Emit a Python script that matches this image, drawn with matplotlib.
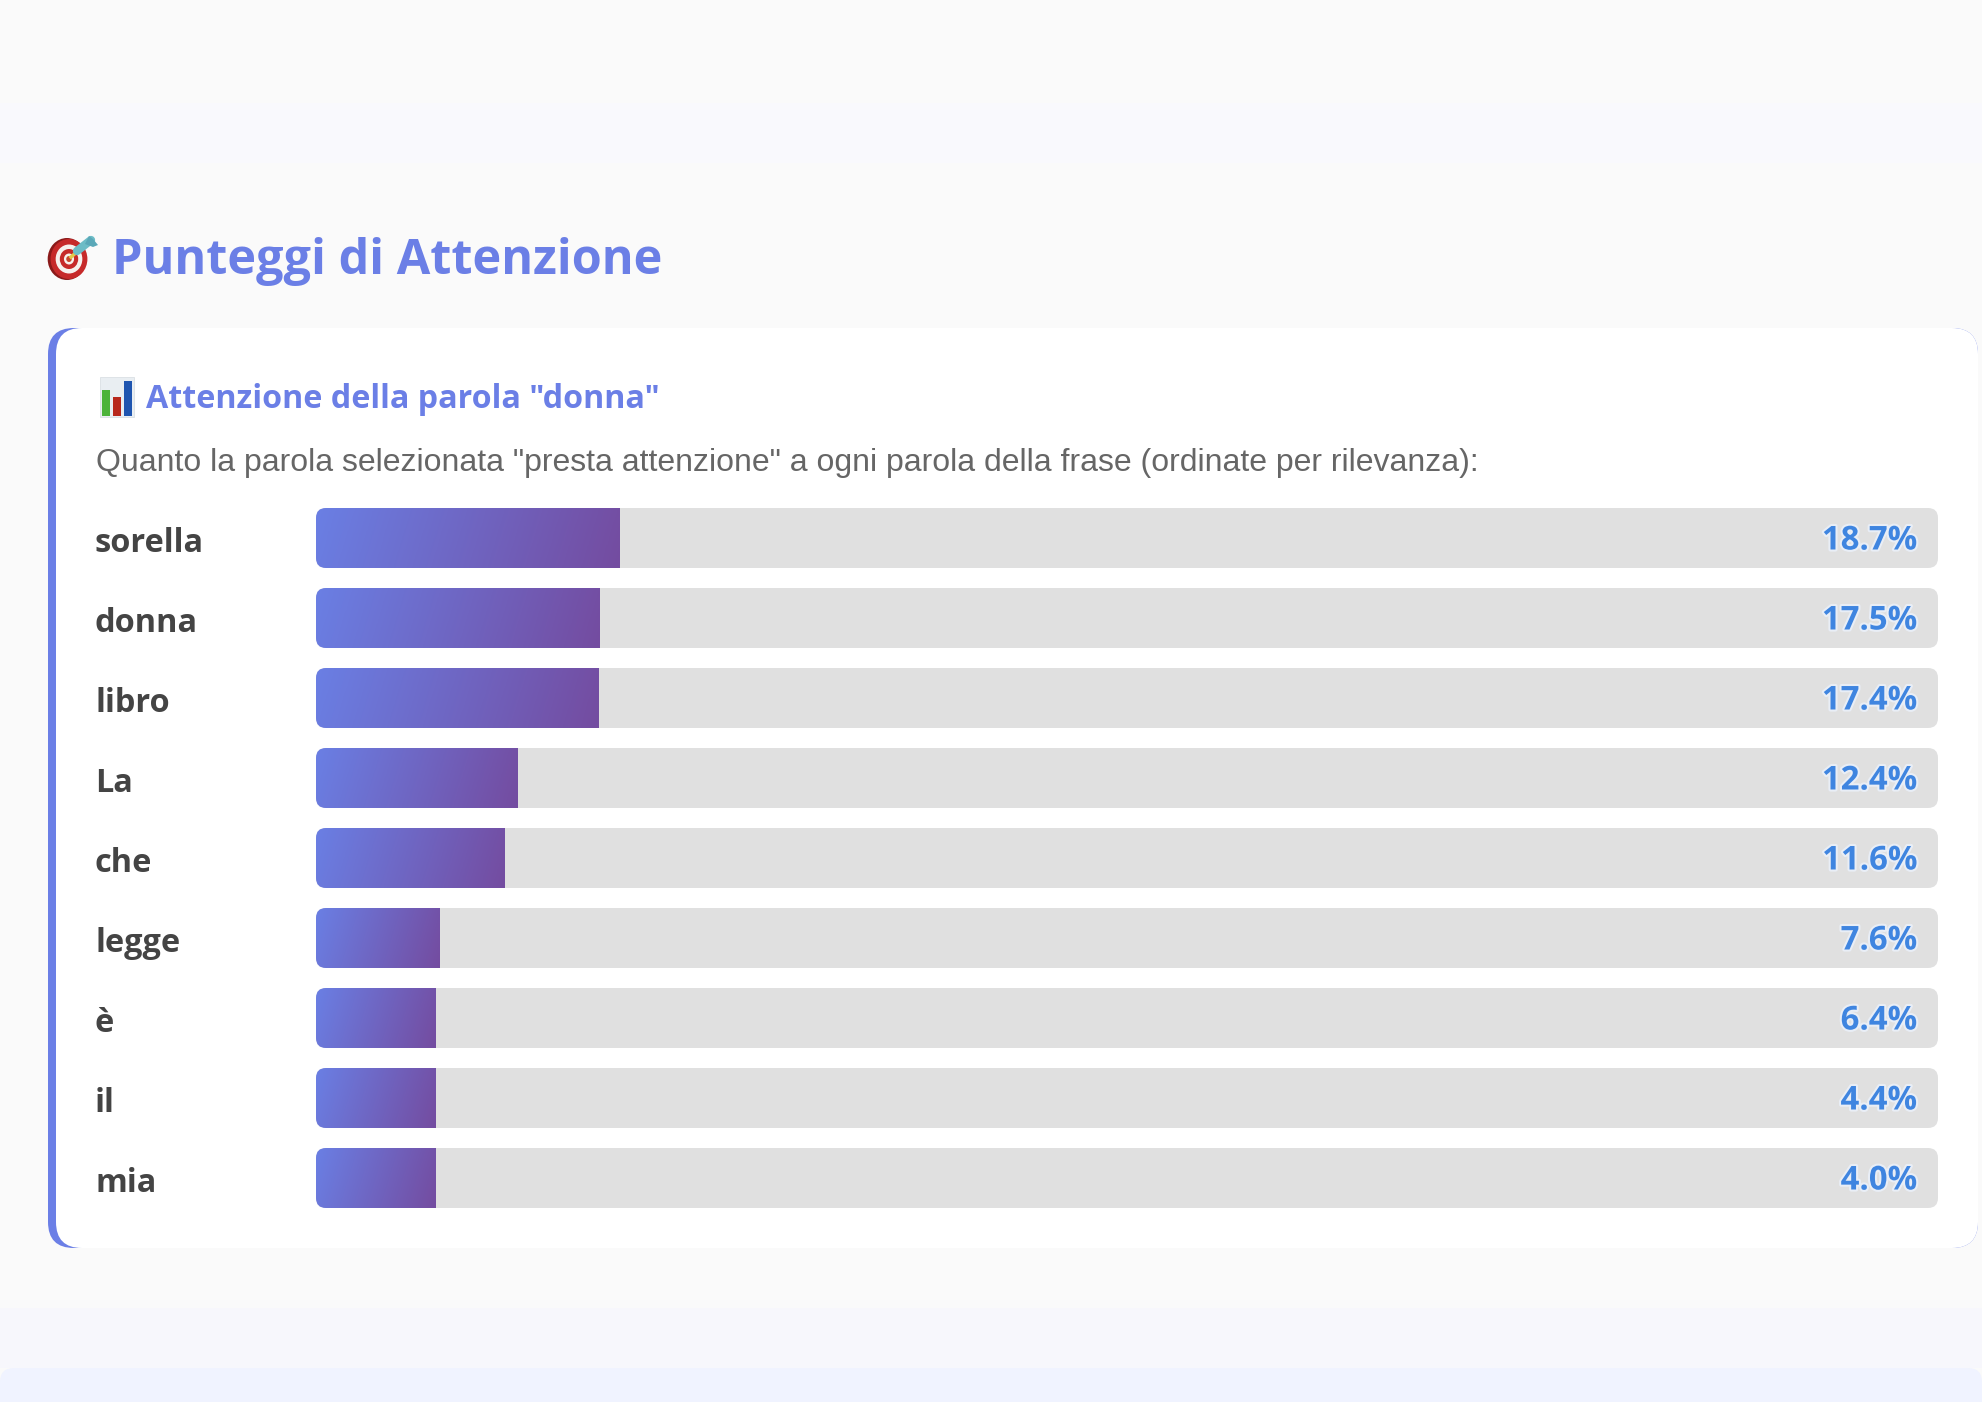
import numpy as np
import matplotlib
matplotlib.use("Agg")
import matplotlib.pyplot as plt
import matplotlib.patheffects as pe
from matplotlib.patches import FancyBboxPatch, Rectangle, Ellipse, Polygon
from matplotlib.colors import LinearSegmentedColormap

words = ["sorella", "donna", "libro", "La", "che", "legge", "è", "il", "mia"]
scores = [18.7, 17.5, 17.4, 12.4, 11.6, 7.6, 6.4, 4.4, 4.0]
title = "Punteggi di Attenzione"
subtitle = 'Attenzione della parola "donna"'
intro = 'Quanto la parola selezionata "presta attenzione" a ogni parola della frase (ordinate per rilevanza):'

W, H = 1982, 1402
FONT = ["Liberation Sans", "DejaVu Sans"]
BOLD = ["Open Sans", "Liberation Sans", "DejaVu Sans"]
fig = plt.figure(figsize=(W/100, H/100), dpi=100, facecolor="#fafafa")
ax = fig.add_axes([0, 0, 1, 1])
ax.set_xlim(0, W); ax.set_ylim(H, 0); ax.axis("off")

def rrect(x0, y0, x1, y1, r, color, z=1):
    p = FancyBboxPatch((x0+r, y0+r), x1-x0-2*r, y1-y0-2*r, boxstyle=f"round,pad={r},rounding_size={r}",
                       fc=color, ec="none", zorder=z)
    ax.add_patch(p)
    return p

# page bands
ax.add_patch(Rectangle((0, 103), W, 60, fc="#f9f9fd", ec="none", zorder=0))
ax.add_patch(Rectangle((0, 1308), W, 60, fc="#f7f7fc", ec="none", zorder=0))
rrect(0, 1368, W, 1460, 14, "#f0f3ff", 0.5)

# card
rrect(48, 328, 1978, 1248, 26, "#6b7fe6", 1)
rrect(56, 328, 1978, 1248, 26, "#ffffff", 2)

cmap = LinearSegmentedColormap.from_list("g", ["#6a7fe4", "#744ca0"])

TX0, TX1 = 316, 1938
TW = TX1 - TX0
MIN_PX = 120
glow = [pe.withStroke(linewidth=3, foreground="#e9eef6")]
for i, (w, s) in enumerate(zip(words, scores)):
    y0 = 508 + 80*i
    y1 = y0 + 60
    rrect(TX0, y0, TX1, y1, 10, "#e0e0e0", 3)
    fw = max(TW*s/100, MIN_PX)
    fx = TX0 + fw
    X, Y = np.meshgrid(np.linspace(0, fw, 256), np.linspace(0, 60, 32))
    grad = (X + 0.3*Y) / (fw + 0.3*60)
    im = ax.imshow(grad, extent=(TX0, fx, y1, y0), cmap=cmap, aspect="auto", zorder=4,
                   interpolation="bilinear", origin="upper", vmin=0, vmax=1)
    clipper = FancyBboxPatch((TX0+10, y0+10), TW-20, 40, boxstyle="round,pad=10,rounding_size=10",
                             transform=ax.transData, fc="none", ec="none")
    ax.add_patch(clipper)
    im.set_clip_path(clipper)
    ax.text(95, y0+35, w, fontsize=23.4, fontweight="bold", color="#444444", family=BOLD, va="center", ha="left", zorder=5)
    ax.text(1917, y0+33, f"{s:.1f}%", fontsize=23.7, fontweight="bold", color="#3f85e0", family=BOLD,
            va="center", ha="right", zorder=5, path_effects=glow)
ax.set_xlim(0, W); ax.set_ylim(H, 0)

ax.text(112, 261, title, fontsize=35, fontweight="bold", color="#6b7fe6", family=BOLD, va="center", ha="left", zorder=5)
ax.text(146, 400, subtitle, fontsize=23.2, fontweight="bold", color="#6b7fe6", family=BOLD, va="center", ha="left", zorder=5)
ax.text(96, 463, intro, fontsize=23, color="#666666", family=FONT, va="center", ha="left", zorder=5)

# target icon
for r, c, cx in [(21, "#8a1a1a", 67), (20, "#c62a2a", 69), (14.5, "#f6f1ee", 69), (10, "#c62a2a", 69), (5.5, "#f6f1ee", 69), (3, "#c8452f", 69)]:
    ax.add_patch(Ellipse((cx, 259), 2*r*0.92, 2*r, fc=c, ec="none", zorder=5))
ax.plot([71, 78], [257, 251], color="#e3c84a", lw=2.5, zorder=6)
ax.plot([77, 91], [251, 240], color="#6cbcc6", lw=6, zorder=6, solid_capstyle="round")
ax.add_patch(Polygon([[85, 244], [89, 236], [93, 239], [98, 245], [93, 247]], fc="#5aa8b8", ec="none", zorder=6))

# bar chart icon
ax.add_patch(Rectangle((100, 377), 34, 40, fc="#e9eef2", ec="#d6dce0", lw=0.5, zorder=5))
ax.add_patch(Rectangle((102, 390), 8, 26, fc="#4cb33a", ec="none", zorder=6))
ax.add_patch(Rectangle((113, 397), 8, 19, fc="#b8281c", ec="none", zorder=6))
ax.add_patch(Rectangle((124, 381), 8, 35, fc="#1f55b0", ec="none", zorder=6))

fig.savefig("out.png", dpi=100, facecolor=fig.get_facecolor())
